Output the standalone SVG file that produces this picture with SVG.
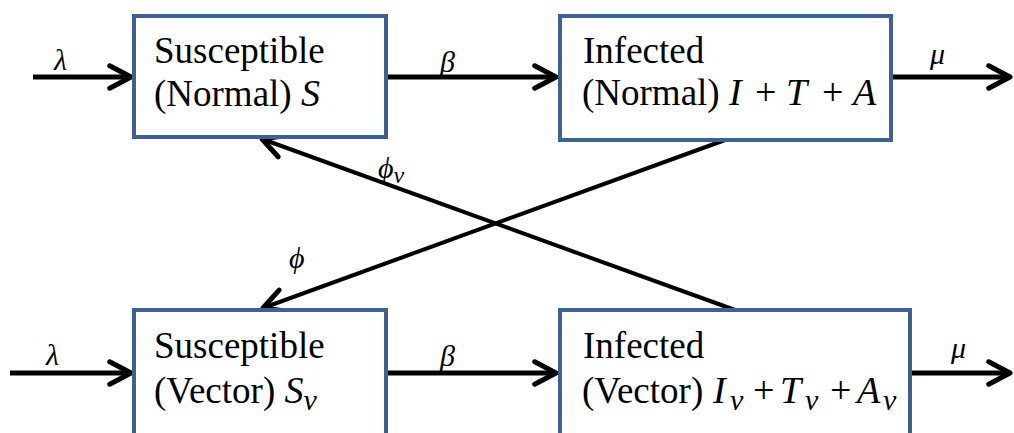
<svg xmlns="http://www.w3.org/2000/svg" width="1014" height="433" viewBox="0 0 1014 433">
<style>
.box{fill:#fff;stroke:#3D6190;stroke-width:4}
.t{font-family:"Liberation Serif","Times New Roman",serif;font-size:37px;fill:#000}
.m{font-family:"Liberation Serif","DejaVu Serif",serif;font-style:italic;font-size:38px;fill:#000}
.p{font-family:"Liberation Serif","DejaVu Serif",serif;font-size:38px;fill:#000}
.s{font-family:"Liberation Serif","DejaVu Serif",serif;font-style:italic;font-size:30px;fill:#000}
.lbl{font-family:"Liberation Serif","DejaVu Serif",serif;font-style:italic;font-size:30px;fill:#000}
.c{stroke:#000;stroke-width:5;fill:none}
.d{stroke:#000;stroke-width:4;fill:none}
</style>
<defs>
<marker id="ah" viewBox="0 0 12 12" refX="10.5" refY="6" markerWidth="30" markerHeight="30" markerUnits="userSpaceOnUse" orient="auto">
<path d="M2,1.5 L10.5,6 L2,10.5" fill="none" stroke="#000" stroke-width="2" stroke-linecap="round" stroke-linejoin="round"/>
</marker>
</defs>
<g id="connectors">
<line class="c" x1="33" y1="77" x2="131" y2="77" marker-end="url(#ah)"/>
<line class="c" x1="388" y1="77" x2="556" y2="77" marker-end="url(#ah)"/>
<line class="c" x1="893" y1="77" x2="1010" y2="77" marker-end="url(#ah)"/>
<line class="c" x1="10" y1="373" x2="131" y2="373" marker-end="url(#ah)"/>
<line class="c" x1="388" y1="373" x2="556" y2="373" marker-end="url(#ah)"/>
<line class="c" x1="912" y1="373" x2="1010" y2="373" marker-end="url(#ah)"/>
<line class="d" x1="735" y1="310" x2="262" y2="139" marker-end="url(#ah)"/>
<line class="d" x1="725" y1="140" x2="263" y2="308" marker-end="url(#ah)"/>
<text class="lbl" x="54" y="70">λ</text>
<text class="lbl" x="440" y="72">β</text>
<text class="lbl" x="930" y="64">μ</text>
<text class="lbl" x="46" y="365">λ</text>
<text class="lbl" x="440" y="366">β</text>
<text class="lbl" x="951" y="358">μ</text>
<text class="lbl" x="378" y="178">ϕ<tspan font-size="24" dy="5">v</tspan></text>
<text class="lbl" x="289" y="268">ϕ</text>
</g>
<g id="node-s">
<rect class="box" x="134" y="16" width="252" height="121"/>
<text class="t" x="154" y="63">Susceptible</text>
<text class="t" x="154" y="106">(Normal) <tspan class="m">S</tspan></text>
</g>
<g id="node-i">
<rect class="box" x="560" y="16" width="331" height="124"/>
<text class="t" x="583" y="63">Infected</text>
<text class="t" x="582" y="105">(Normal)</text>
<text class="m" x="729" y="105">I</text>
<text class="p" x="755" y="105">+</text>
<text class="m" x="786" y="105">T</text>
<text class="p" x="822" y="105">+</text>
<text class="m" x="853" y="105">A</text>
</g>
<g id="node-sv">
<rect class="box" x="134" y="310" width="252" height="140"/>
<text class="t" x="154" y="358">Susceptible</text>
<text class="t" x="154" y="403">(Vector) <tspan class="m">S</tspan><tspan class="s" dy="7">v</tspan></text>
</g>
<g id="node-iv">
<rect class="box" x="560" y="310" width="350" height="140"/>
<text class="t" x="583" y="358">Infected</text>
<text class="t" x="582" y="403">(Vector)</text>
<text class="m" x="713" y="403">I</text>
<text class="s" x="730" y="410">v</text>
<text class="p" x="753" y="403">+</text>
<text class="m" x="780" y="403">T</text>
<text class="s" x="805" y="410">v</text>
<text class="p" x="830" y="403">+</text>
<text class="m" x="857" y="403">A</text>
<text class="s" x="883" y="410">v</text>
</g>
</svg>
